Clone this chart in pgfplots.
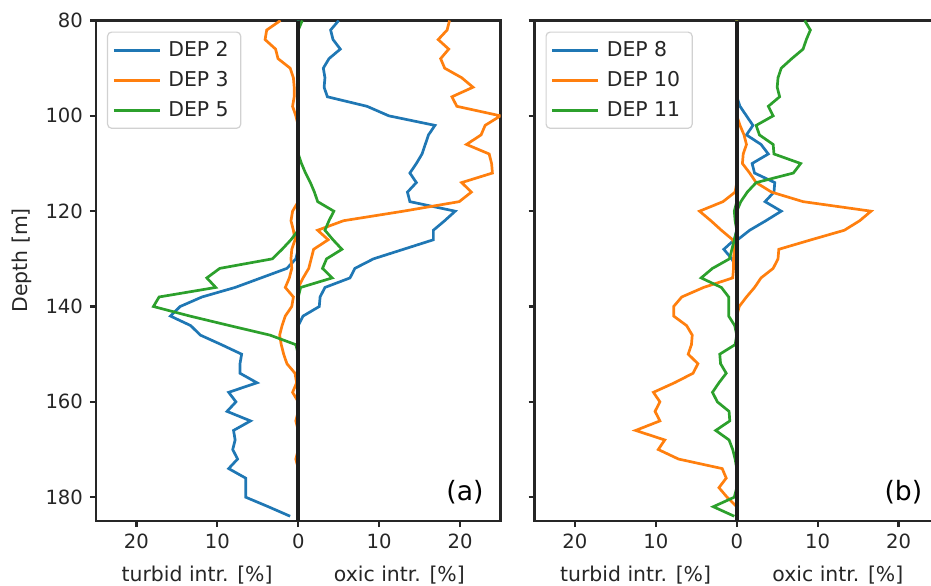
\documentclass[border=0pt]{standalone}
\usepackage{fontspec}
\setmainfont{DejaVu Sans}
\usepackage{pgfplots}
\usepackage{pgfplotstable}
\pgfplotsset{compat=1.18}

\definecolor{tabblue}{HTML}{1F77B4}
\definecolor{taborange}{HTML}{FF7F0E}
\definecolor{tabgreen}{HTML}{2CA02C}
\definecolor{spine}{HTML}{262626}
\definecolor{zeroline}{HTML}{1E1E1E}

% Intrusion profiles: oxic share (positive) and turbid share (negative), per depth in m
\pgfplotstableread{
d   o2    t2     o3    t3    o5   t5
80  5.0   0      18.7  -2.2  0.5  0
82  4.0   0      18.4  -3.9  0    0
84  4.3   0      17.3  -4.1  0    0
86  5.2   0      18.6  -2.8  0    0
88  3.8   0      17.6  -2.5  0    0
90  3.1   0      18.1  -1.0  0    0
92  3.3   0      20.2  -0.6  0    0
94  3.2   0      21.6  -0.5  0    0
96  3.6   0      19.0  -0.5  0    0
98  8.5   0      19.6  -0.7  0    0
100 11.2  0      25.0  -0.3  0    0
102 16.9  0      23.1  0     0    0
104 16.1  0      22.6  0     0    0
106 15.7  0      20.8  0     0    0
108 15.3  0      23.6  0     0    0
110 14.6  0      23.9  0     0.4  0
112 13.8  0      24.0  0     0.9  0
114 14.6  0      20.2  0     1.5  0
116 13.5  0      21.4  0     2.0  0
118 13.8  0      19.9  0     2.4  0
120 19.4  0      13.0  -0.7  4.4  0
122 18.1  0      5.6   -0.9  3.8  0
124 16.7  0      2.4   -0.6  3.3  0
126 16.7  0      3.7   -0.4  4.3  -0.9
128 13.0  0      1.9   -0.8  5.4  -2.0
130 9.3   -0.3   1.6   -0.9  3.5  -3.2
132 7.0   -1.4   1.3   -0.8  3.0  -9.7
134 6.4   -4.6   0.6   -1.1  4.2  -11.3
136 3.3   -7.8   0     -1.6  0.3  -10.2
138 2.7   -11.9  0     -0.6  0    -17.2
140 2.6   -14.6  0     -0.8  0    -17.9
142 0.6   -15.8  0     -1.6  0    -13.4
144 0     -13.3  0     -2.0  0    -8.5
146 0     -12.1  0     -2.3  0    -3.5
148 0     -9.5   0     -2.1  0    -0.3
150 0     -7.0   0     -1.8  0    0
152 0     -7.2   0     -1.4  0    0
154 0     -7.2   0     -0.4  0    0
156 0     -5.1   0     -0.2  0    0
158 0     -8.6   0     -0.7  0    0
160 0     -7.7   0     0     0    0
162 0     -8.8   0     0     0    0
164 0     -5.9   0     -0.3  0    0
166 0     -8.0   0     0     0    0
168 0     -7.8   0     0     0    0
170 0     -8.1   0     0     0    0
172 0     -7.5   0     -0.3  0    0
174 0     -8.6   0     0     0    0
176 0     -6.5   0     0     0    0
178 0     -6.5   0     0     0    0
180 0     -6.5   0     0     0    0
182 0     -3.7   0     0     0    0
184 0     -1.0   0     0     0    0
}\profA

\pgfplotstableread{
d   o8   t8    o10   t10    o11  t11
80  0    0     0     0      8.4  0
82  0    0     0     0      9.1  0
84  0    0     0     0      8.6  0
86  0    0     0     0      8.2  0
88  0    0     0     0      6.8  0
90  0    0     0     0      5.5  0
92  0    0     0     0      5.1  0
94  0    0     0     0      5.0  0
96  0    0     0     0      5.3  0
98  0.4  0     0     0      3.9  0
100 1.2  0     0     0      4.5  0
102 2.0  0     0.4   0      2.4  0
104 1.2  0     0.9   0      2.8  0
106 3.0  0     1.2   0      4.5  0
108 3.9  0     0.8   0      4.6  0
110 1.9  0     0.7   0      7.9  0
112 2.2  0     1.6   0      7.0  0
114 4.7  0     2.4   0      2.4  0
116 4.6  0     4.3   -0.2   1.3  0
118 3.5  0     8.2   -1.7   0.5  0
120 5.5  0     16.6  -4.6   0    -0.3
122 3.6  0     15.2  -3.2   0    -0.2
124 1.6  0     13.3  -1.9   0    0
126 0.1  -0.3  9.2   -0.5   0    -0.3
128 0    -1.6  5.2   -0.3   0    -0.6
130 0    -0.6  5.1   -0.4   0    -0.9
132 0    0     4.5   -0.4   0    -3.0
134 0    0     3.0   -0.5   0    -4.4
136 0    0     2.2   -4.1   0    -1.9
138 0    0     1.2   -6.8   0    -1.0
140 0    0     0.3   -7.8   0    -1.0
142 0    0     0     -7.8   0    -1.0
144 0    0     0     -6.2   0    -0.25
146 0    0     0     -5.5   0    0
148 0    0     0     -5.6   0    -0.2
150 0    0     0     -6.0   0    -2.1
152 0    0     0     -4.8   0    -2.0
154 0    0     0     -5.4   0    -1.3
156 0    0     0     -7.7   0    -2.2
158 0    0     0     -10.3  0    -3.0
160 0    0     0     -9.5   0    -2.4
162 0    0     0     -10.1  0    -0.95
164 0    0     0     -9.5   0    -0.86
166 0    0     0     -12.5  0    -2.6
168 0    0     0     -8.9   0    -0.95
170 0    0     0     -9.7   0    -0.5
172 0    0     0     -7.2   0    -0.2
174 0    0     0     -1.8   0    0
176 0    0     0     -1.3   0    0
178 0    0     0     -2.2   0    0
180 0    0     0     -1.2   0    -0.3
182 0    0     0     0      0    -2.9
184 0    0     0     0      0    -0.3
}\profB

\pgfplotsset{
  depthpanel/.style={
    scale only axis, width=202.25pt, height=250.25pt,
    xmin=-25, xmax=25, ymin=80, ymax=185, y dir=reverse,
    xtick={-20,-10,0,10,20}, xticklabels={20,10,0,10,20},
    ytick={80,100,...,180},
    tick align=outside, major tick length=3pt,
    xtick pos=left, ytick pos=left,
    axis line style={spine, line width=1.1pt},
    every tick/.style={spine, line width=1.1pt},
    tick label style={font=\fontsize{9.8}{11}\selectfont, text=spine},
    /pgf/number format/assume math mode=true,
    clip mode=individual,
    legend cell align=left,
    legend image code/.code={\draw[##1, line width=1.35pt] (0pt,0pt) -- (23pt,0pt);},
    legend style={at={(axis description cs:0,1)}, anchor=north west,
      xshift=5.5pt, yshift=-5.5pt, draw=black!18, line width=0.6pt,
      rounded corners=2pt, fill=white, text=spine,
      font=\fontsize{10.2}{12}\selectfont,
      inner xsep=2.5pt, inner ysep=3pt, row sep=3pt,
      nodes={inner xsep=3.5pt, inner ysep=1.5pt}},
    series/.style={line width=1.35pt, line join=miter},
  },
}

\begin{document}
\begin{tikzpicture}
% (a): DEP 2, 3, 5
\begin{axis}[depthpanel, name=left, at={(0pt,0pt)}, anchor=south west]
  \addplot[series, tabblue] table[x=o2, y=d] {\profA};
  \addlegendentry{DEP 2}
  \addplot[series, tabblue, forget plot] table[x=t2, y=d] {\profA};
  \addplot[series, taborange] table[x=o3, y=d] {\profA};
  \addlegendentry{DEP 3}
  \addplot[series, taborange, forget plot] table[x=t3, y=d] {\profA};
  \addplot[series, tabgreen] table[x=o5, y=d] {\profA};
  \addlegendentry{DEP 5}
  \addplot[series, tabgreen, forget plot] table[x=t5, y=d] {\profA};
  \addplot[forget plot, zeroline, line width=2.15pt] coordinates {(0,80) (0,185)};
  \node[font=\fontsize{13.3}{16}\selectfont, text=black] at (axis description cs:0.912,0.058) {(a)};
  \node[font=\fontsize{10.2}{12}\selectfont, text=spine] at ([yshift=-27pt]axis description cs:0.25,0) {turbid intr. [\%]};
  \node[font=\fontsize{10.2}{12}\selectfont, text=spine] at ([yshift=-27pt]axis description cs:0.75,0) {oxic intr. [\%]};
  \node[rotate=90, font=\fontsize{10.2}{12}\selectfont, text=spine] at ([xshift=-37pt]axis description cs:0,0.521) {Depth [m]};
\end{axis}
% (b): DEP 8, 10, 11
\begin{axis}[depthpanel, name=right, at={(219.25pt,0pt)}, anchor=south west, yticklabels={}]
  \addplot[series, tabblue] table[x=o8, y=d] {\profB};
  \addlegendentry{DEP 8}
  \addplot[series, tabblue, forget plot] table[x=t8, y=d] {\profB};
  \addplot[series, taborange] table[x=o10, y=d] {\profB};
  \addlegendentry{DEP 10}
  \addplot[series, taborange, forget plot] table[x=t10, y=d] {\profB};
  \addplot[series, tabgreen] table[x=o11, y=d] {\profB};
  \addlegendentry{DEP 11}
  \addplot[series, tabgreen, forget plot] table[x=t11, y=d] {\profB};
  \addplot[forget plot, zeroline, line width=2.15pt] coordinates {(0,80) (0,185)};
  \node[font=\fontsize{13.3}{16}\selectfont, text=black] at (axis description cs:0.912,0.058) {(b)};
  \node[font=\fontsize{10.2}{12}\selectfont, text=spine] at ([yshift=-27pt]axis description cs:0.25,0) {turbid intr. [\%]};
  \node[font=\fontsize{10.2}{12}\selectfont, text=spine] at ([yshift=-27pt]axis description cs:0.75,0) {oxic intr. [\%]};
\end{axis}
\pgfresetboundingbox
\useasboundingbox (-48pt,-32pt) rectangle (417.5pt,260.5pt);
\end{tikzpicture}
\end{document}
